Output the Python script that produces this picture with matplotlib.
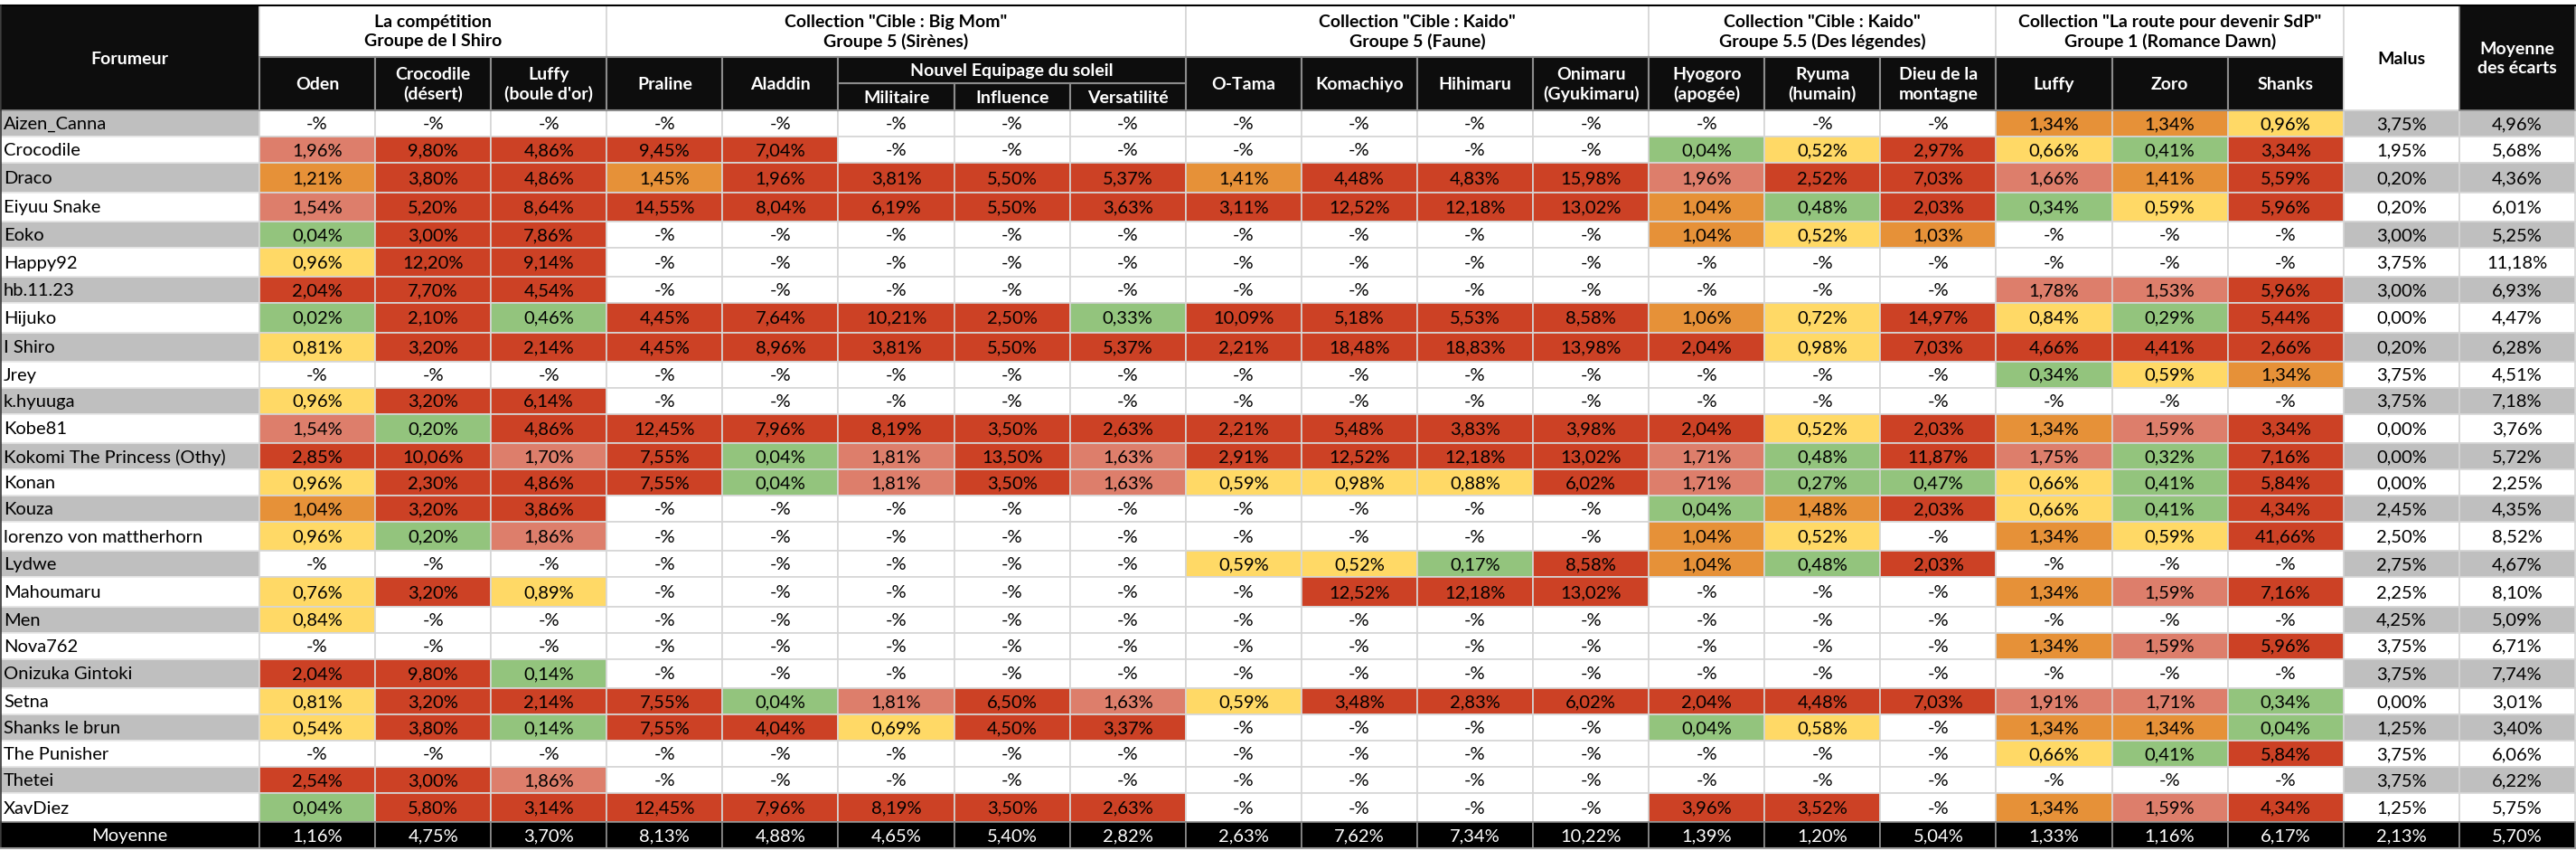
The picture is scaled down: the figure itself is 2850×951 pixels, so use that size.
import matplotlib
matplotlib.use("Agg")
import matplotlib.pyplot as plt
from matplotlib.patches import Rectangle

plt.rcParams['font.family'] = ['Lato', 'DejaVu Sans']

########################################################################
### Data (None = "-%")

forumeurs = ["Aizen_Canna", "Crocodile", "Draco", "Eiyuu Snake", "Eoko", "Happy92",
             "hb.11.23", "Hijuko", "I Shiro", "Jrey", "k.hyuuga", "Kobe81",
             "Kokomi The Princess (Othy)", "Konan", "Kouza", "lorenzo von mattherhorn",
             "Lydwe", "Mahoumaru", "Men", "Nova762", "Onizuka Gintoki", "Setna",
             "Shanks le brun", "The Punisher", "Thetei", "XavDiez"]

colonnes = ["Oden", "Crocodile\n(désert)", "Luffy\n(boule d'or)",
            "Praline", "Aladdin", "Militaire", "Influence", "Versatilité",
            "O-Tama", "Komachiyo", "Hihimaru", "Onimaru\n(Gyukimaru)",
            "Hyogoro\n(apogée)", "Ryuma\n(humain)", "Dieu de la\nmontagne",
            "Luffy", "Zoro", "Shanks"]

groupes = [("La compétition\nGroupe de I Shiro", 0, 3),
           ('Collection "Cible : Big Mom"\nGroupe 5 (Sirènes)', 3, 8),
           ('Collection "Cible : Kaido"\nGroupe 5 (Faune)', 8, 12),
           ('Collection "Cible : Kaido"\nGroupe 5.5 (Des légendes)', 12, 15),
           ('Collection "La route pour devenir SdP"\nGroupe 1 (Romance Dawn)', 15, 18)]
sous_groupe = ("Nouvel Equipage du soleil", 5, 8)

N = None
# Oden, Crocodile, Luffy
competition = [
    [N, N, N], [1.96, 9.80, 4.86], [1.21, 3.80, 4.86], [1.54, 5.20, 8.64],
    [0.04, 3.00, 7.86], [0.96, 12.20, 9.14], [2.04, 7.70, 4.54], [0.02, 2.10, 0.46],
    [0.81, 3.20, 2.14], [N, N, N], [0.96, 3.20, 6.14], [1.54, 0.20, 4.86],
    [2.85, 10.06, 1.70], [0.96, 2.30, 4.86], [1.04, 3.20, 3.86], [0.96, 0.20, 1.86],
    [N, N, N], [0.76, 3.20, 0.89], [0.84, N, N], [N, N, N],
    [2.04, 9.80, 0.14], [0.81, 3.20, 2.14], [0.54, 3.80, 0.14], [N, N, N],
    [2.54, 3.00, 1.86], [0.04, 5.80, 3.14]]

# Praline, Aladdin, Militaire, Influence, Versatilite
big_mom = [
    [N, N, N, N, N], [9.45, 7.04, N, N, N], [1.45, 1.96, 3.81, 5.50, 5.37],
    [14.55, 8.04, 6.19, 5.50, 3.63], [N, N, N, N, N], [N, N, N, N, N],
    [N, N, N, N, N], [4.45, 7.64, 10.21, 2.50, 0.33], [4.45, 8.96, 3.81, 5.50, 5.37],
    [N, N, N, N, N], [N, N, N, N, N], [12.45, 7.96, 8.19, 3.50, 2.63],
    [7.55, 0.04, 1.81, 13.50, 1.63], [7.55, 0.04, 1.81, 3.50, 1.63], [N, N, N, N, N],
    [N, N, N, N, N], [N, N, N, N, N], [N, N, N, N, N], [N, N, N, N, N],
    [N, N, N, N, N], [N, N, N, N, N], [7.55, 0.04, 1.81, 6.50, 1.63],
    [7.55, 4.04, 0.69, 4.50, 3.37], [N, N, N, N, N], [N, N, N, N, N],
    [12.45, 7.96, 8.19, 3.50, 2.63]]

# O-Tama, Komachiyo, Hihimaru, Onimaru
kaido_faune = [
    [N, N, N, N], [N, N, N, N], [1.41, 4.48, 4.83, 15.98], [3.11, 12.52, 12.18, 13.02],
    [N, N, N, N], [N, N, N, N], [N, N, N, N], [10.09, 5.18, 5.53, 8.58],
    [2.21, 18.48, 18.83, 13.98], [N, N, N, N], [N, N, N, N], [2.21, 5.48, 3.83, 3.98],
    [2.91, 12.52, 12.18, 13.02], [0.59, 0.98, 0.88, 6.02], [N, N, N, N], [N, N, N, N],
    [0.59, 0.52, 0.17, 8.58], [N, 12.52, 12.18, 13.02], [N, N, N, N], [N, N, N, N],
    [N, N, N, N], [0.59, 3.48, 2.83, 6.02], [N, N, N, N], [N, N, N, N],
    [N, N, N, N], [N, N, N, N]]

# Hyogoro, Ryuma, Dieu de la montagne
kaido_legendes = [
    [N, N, N], [0.04, 0.52, 2.97], [1.96, 2.52, 7.03], [1.04, 0.48, 2.03],
    [1.04, 0.52, 1.03], [N, N, N], [N, N, N], [1.06, 0.72, 14.97],
    [2.04, 0.98, 7.03], [N, N, N], [N, N, N], [2.04, 0.52, 2.03],
    [1.71, 0.48, 11.87], [1.71, 0.27, 0.47], [0.04, 1.48, 2.03], [1.04, 0.52, N],
    [1.04, 0.48, 2.03], [N, N, N], [N, N, N], [N, N, N],
    [N, N, N], [2.04, 4.48, 7.03], [0.04, 0.58, N], [N, N, N],
    [N, N, N], [3.96, 3.52, N]]

# Luffy, Zoro, Shanks
route_sdp = [
    [1.34, 1.34, 0.96], [0.66, 0.41, 3.34], [1.66, 1.41, 5.59], [0.34, 0.59, 5.96],
    [N, N, N], [N, N, N], [1.78, 1.53, 5.96], [0.84, 0.29, 5.44],
    [4.66, 4.41, 2.66], [0.34, 0.59, 1.34], [N, N, N], [1.34, 1.59, 3.34],
    [1.75, 0.32, 7.16], [0.66, 0.41, 5.84], [0.66, 0.41, 4.34], [1.34, 0.59, 41.66],
    [N, N, N], [1.34, 1.59, 7.16], [N, N, N], [1.34, 1.59, 5.96],
    [N, N, N], [1.91, 1.71, 0.34], [1.34, 1.34, 0.04], [0.66, 0.41, 5.84],
    [N, N, N], [1.34, 1.59, 4.34]]

malus = [3.75, 1.95, 0.20, 0.20, 3.00, 3.75, 3.00, 0.00, 0.20, 3.75, 3.75, 0.00, 0.00,
         0.00, 2.45, 2.50, 2.75, 2.25, 4.25, 3.75, 3.75, 0.00, 1.25, 3.75, 3.75, 1.25]
moyenne_ecarts = [4.96, 5.68, 4.36, 6.01, 5.25, 11.18, 6.93, 4.47, 6.28, 4.51, 7.18, 3.76, 5.72,
                  2.25, 4.35, 8.52, 4.67, 8.10, 5.09, 6.71, 7.74, 3.01, 3.40, 6.06, 6.22, 5.75]
moyenne_colonnes = [1.16, 4.75, 3.70, 8.13, 4.88, 4.65, 5.40, 2.82, 2.63, 7.62, 7.34, 10.22,
                    1.39, 1.20, 5.04, 1.33, 1.16, 6.17, 2.13, 5.70]

########################################################################
### Layout / style (pixels)
W, H = 2850, 951
x_left, w_nom, w_col = 0, 287, 128.1
y_top, y_grp, y_sub, y_head = 6, 62.7, 91.7, 122.3
lignes_hautes = [2, 3, 5, 7, 8, 11, 15, 17, 20, 25]
h_haute, h_basse, h_moy = 32.3, 29.0, 28.4

NOIR = '#0d0d0d'
GRIS = '#bfbfbf'
GRILLE = '#d6d6d6'
GRILLE_TETE = '#8c8c8c'
PALETTE = ['#93c47d', '#ffd966', '#e69138', '#dd7e6b', '#cc4125']
FS = 14.5
FS_TETE = 14


def couleur(v, j):
    if v is None:
        return 'white'
    bornes = [0.5, 1.0, 1.5, 2.0]
    if j == 4:  # Aladdin column has its own rule
        bornes[3] = 1.9
    k = sum(v >= b for b in bornes)
    return PALETTE[k]


def fmt(v):
    if v is None:
        return "-%"
    return ("%.2f" % v).replace('.', ',') + "%"


valeurs = [competition[i] + big_mom[i] + kaido_faune[i] + kaido_legendes[i] + route_sdp[i]
           for i in range(len(forumeurs))]
n_col = len(colonnes) + 2
x_edges = [x_left, x_left + w_nom] + [x_left + w_nom + (j + 1) * w_col for j in range(n_col)]
y_edges = [y_head]
for i in range(len(forumeurs)):
    y_edges.append(y_edges[-1] + (h_haute if i in lignes_hautes else h_basse))
y_moy = y_edges[-1]

fig = plt.figure(figsize=(W / 100, H / 100), dpi=100)
ax = fig.add_axes([0, 0, 1, 1])
ax.set_xlim(0, W)
ax.set_ylim(H, 0)
ax.axis('off')


def cell(x0, x1, y0, y1, fc, ec=GRILLE, lw=1.2, txt=None, tc='black', ha='center',
         bold=False, fs=FS, z=1):
    ax.add_patch(Rectangle((x0, y0), x1 - x0, y1 - y0, facecolor=fc, edgecolor=ec,
                           linewidth=lw, zorder=z))
    if txt is not None:
        xt = (x0 + x1) / 2 if ha == 'center' else x0 + 4
        ax.text(xt, (y0 + y1) / 2 + 1, txt, ha=ha, va='center', color=tc, fontsize=fs,
                fontweight='bold' if bold else 'normal', linespacing=1.3, zorder=z + 1)


### Data rows
for i, nom in enumerate(forumeurs):
    y0, y1 = y_edges[i], y_edges[i + 1]
    fond = GRIS if i % 2 == 0 else 'white'
    cell(x_edges[0], x_edges[1], y0, y1, fond, ec='#e6e6e6', txt=nom, ha='left')
    for j, v in enumerate(valeurs[i]):
        cell(x_edges[j + 1], x_edges[j + 2], y0, y1, couleur(v, j), txt=fmt(v))
    cell(x_edges[-3], x_edges[-2], y0, y1, fond, txt=fmt(malus[i]))
    cell(x_edges[-2], x_edges[-1], y0, y1, fond, txt=fmt(moyenne_ecarts[i]))

### Moyenne row
cell(x_edges[0], x_edges[1], y_moy, y_moy + h_moy, 'black', ec=GRILLE_TETE,
     txt="Moyenne", tc='white', z=3)
for j, v in enumerate(moyenne_colonnes):
    cell(x_edges[j + 1], x_edges[j + 2], y_moy, y_moy + h_moy, 'black', ec=GRILLE_TETE,
         txt=fmt(v), tc='white', z=3)

### Header
cell(x_edges[0], x_edges[1], y_top, y_head, NOIR, ec=GRILLE_TETE, txt="Forumeur",
     tc='white', bold=True, fs=FS_TETE, z=3)
for titre, a, b in groupes:
    cell(x_edges[a + 1], x_edges[b + 1], y_top, y_grp, 'white', ec=GRILLE, txt=titre,
         bold=True, fs=FS_TETE, z=3)
for j, nom in enumerate(colonnes):
    if sous_groupe[1] <= j < sous_groupe[2]:
        cell(x_edges[j + 1], x_edges[j + 2], y_sub, y_head, NOIR, ec=GRILLE_TETE, lw=1.5,
             txt=nom, tc='white', bold=True, fs=FS_TETE, z=3)
    else:
        cell(x_edges[j + 1], x_edges[j + 2], y_grp, y_head, NOIR, ec=GRILLE_TETE, lw=1.5,
             txt=nom, tc='white', bold=True, fs=FS_TETE, z=3)
cell(x_edges[sous_groupe[1] + 1], x_edges[sous_groupe[2] + 1], y_grp, y_sub, NOIR,
     ec=GRILLE_TETE, lw=1.5, txt=sous_groupe[0], tc='white', bold=True, fs=FS_TETE, z=3)
cell(x_edges[-3], x_edges[-2], y_top, y_head, 'white', ec=GRILLE, txt="Malus",
     bold=True, fs=FS_TETE, z=3)
cell(x_edges[-2], x_edges[-1], y_top, y_head, NOIR, ec=GRILLE_TETE,
     txt="Moyenne\ndes écarts", tc='white', bold=True, fs=FS_TETE, z=3)

# outer borders
ax.plot([0, W], [y_top, y_top], color='black', lw=1.5, zorder=6)
ax.plot([1, 1], [y_top, y_moy + h_moy], color='#333333', lw=1.2, zorder=6)
ax.plot([0, W], [y_moy + h_moy, y_moy + h_moy], color='#9a9a9a', lw=1.5, zorder=6)

fig.savefig("out.png", dpi=100)
